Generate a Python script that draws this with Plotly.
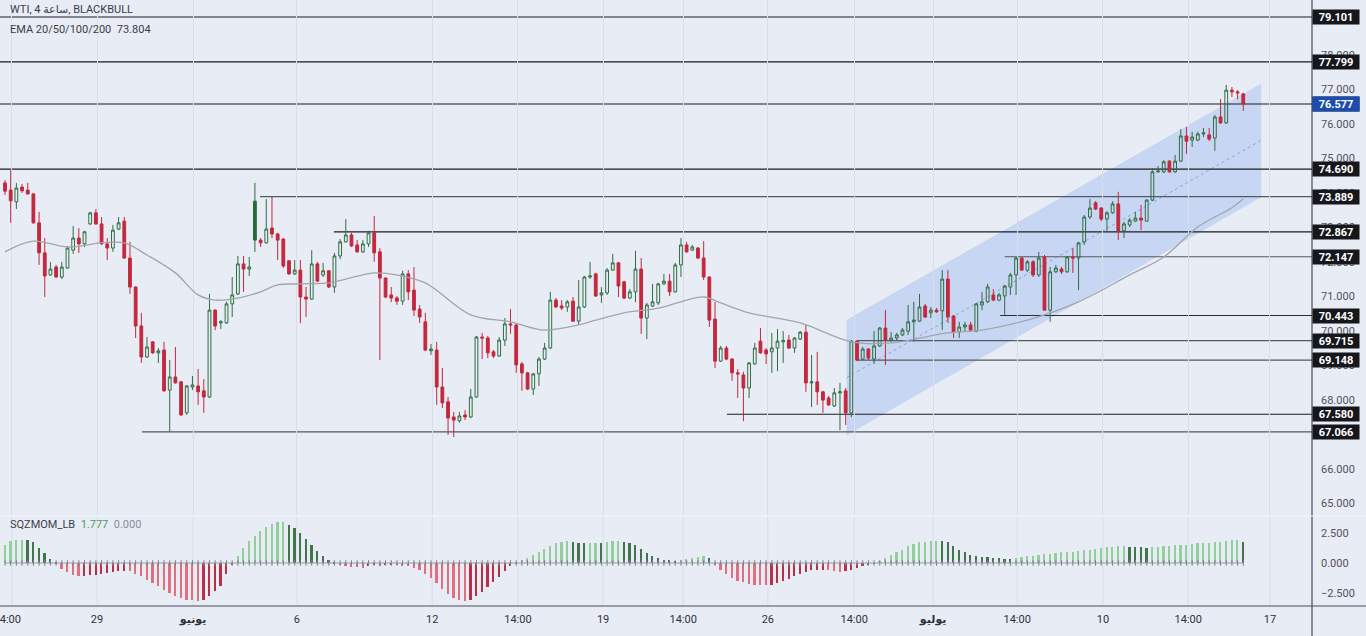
import plotly.graph_objects as go

# ---------------- DATA ----------------
opens = [74.29,74.08,73.74,74.17,74.08,73.97,73.13,72.26,71.62,71.85,
         71.56,71.82,72.34,72.69,72.52,73.10,73.42,73.10,72.52,72.40,
         72.95,73.18,72.11,71.27,70.14,69.24,69.68,69.36,69.44,68.28,
         68.66,68.52,67.62,68.37,68.40,68.26,68.08,70.60,70.23,70.23,
         70.78,71.07,71.94,71.79,73.76,72.63,72.55,72.98,72.81,72.66,
         72.03,71.65,71.76,70.98,70.92,71.94,71.62,71.74,71.27,72.17,
         72.58,72.78,72.49,72.29,72.52,72.84,72.29,71.53,71.04,70.95,
         70.86,71.65,71.18,70.63,70.26,69.42,69.44,68.37,67.94,67.50,
         67.39,67.56,67.50,68.08,69.82,69.79,69.39,69.27,69.73,70.20,
         70.17,69.04,68.78,68.31,68.75,69.18,69.50,70.89,70.72,70.69,
         70.86,70.28,70.69,71.56,71.65,71.04,71.10,71.76,71.97,71.42,
         70.95,71.13,71.79,70.37,70.72,70.81,71.36,71.44,71.13,71.91,
         72.49,72.34,72.40,72.11,71.56,70.34,69.12,69.50,69.18,68.78,
         68.72,68.34,69.04,69.70,69.44,69.39,69.50,69.68,69.73,69.50,
         69.76,69.96,68.49,68.52,68.23,68.05,67.82,68.20,68.26,67.62,
         69.70,69.18,69.47,69.18,69.56,70.08,69.73,69.79,69.88,69.99,
         70.26,70.28,70.72,70.52,70.60,70.58,71.50,70.43,69.97,70.11,
         70.17,69.99,70.75,70.84,71.04,70.89,71.01,71.27,71.62,72.11,
         71.76,72.00,71.62,72.14,70.60,71.71,71.79,71.71,72.14,72.11,
         72.58,73.30,73.71,73.56,73.24,73.42,73.68,72.90,73.07,73.18,
         73.27,73.18,73.79,74.61,74.61,74.92,74.61,74.92,75.65,75.53,
         75.53,75.71,75.68,75.59,76.20,76.03,76.98,76.93,76.87]
highs = [74.37,74.66,74.29,74.26,74.29,73.99,73.45,72.69,71.99,71.91,
         72.00,72.46,73.04,72.98,72.90,73.45,73.53,73.30,72.69,73.07,
         73.30,73.30,72.58,71.29,70.52,69.82,69.70,69.50,69.68,69.15,
         69.53,68.54,68.43,68.69,68.89,68.60,71.07,70.62,70.31,70.84,
         71.56,72.17,72.17,72.14,74.29,72.69,73.82,73.88,72.84,72.69,
         72.05,72.05,72.05,71.27,72.34,72.00,71.97,71.76,72.26,72.66,
         73.24,72.84,72.63,72.63,72.90,73.33,72.40,71.55,71.27,71.01,
         71.74,71.76,71.85,70.75,70.52,69.62,69.68,68.92,68.08,67.65,
         67.65,67.70,68.31,69.85,69.94,69.85,69.44,69.82,70.37,70.63,
         70.19,69.10,68.81,68.78,69.24,69.65,71.13,70.95,70.89,70.89,
         70.98,71.47,71.59,72.00,71.68,71.27,71.82,72.23,71.99,71.45,
         71.21,72.32,72.11,70.81,71.36,71.39,71.65,71.65,71.97,72.69,
         72.58,72.49,72.43,72.60,71.58,70.84,69.56,69.56,69.21,68.89,
         68.81,69.09,69.65,70.08,69.50,69.94,70.05,69.99,69.88,69.82,
         69.99,70.17,69.30,69.39,68.26,68.11,68.34,68.49,68.34,69.73,
         69.73,69.53,69.50,69.99,70.11,70.60,69.96,69.94,70.08,70.75,
         70.84,71.07,70.78,70.69,70.66,71.76,71.76,70.46,70.26,70.26,
         70.26,70.81,71.13,71.36,71.21,71.10,71.33,71.68,72.14,72.14,
         72.05,72.05,72.29,72.20,71.85,71.91,71.85,72.17,72.40,72.58,
         73.36,73.82,73.76,73.59,73.47,73.76,74.03,73.16,73.27,73.45,
         73.65,73.82,74.72,74.78,74.95,74.95,75.10,75.85,75.91,75.77,
         75.77,75.88,75.88,76.26,76.72,77.13,77.07,76.98,76.90]
lows = [73.94,73.13,73.53,74.00,73.95,73.11,71.91,70.98,71.60,71.53,
        71.50,71.80,72.23,72.26,72.43,73.07,73.07,72.49,72.05,72.29,
        72.92,72.09,71.07,69.79,69.07,69.21,69.33,69.07,68.23,67.07,
        68.47,67.53,67.56,68.28,67.85,67.62,68.05,70.02,70.05,70.20,
        70.40,71.04,71.13,71.59,72.29,72.43,72.53,72.69,72.05,71.82,
        71.62,71.62,70.22,70.40,70.90,71.42,71.56,71.24,71.10,72.08,
        72.56,72.43,72.26,72.26,72.43,72.00,69.15,70.95,70.83,70.75,
        70.75,70.89,70.43,70.23,69.42,69.30,67.85,67.76,66.98,66.92,
        67.33,67.41,67.47,68.06,69.18,69.21,69.21,69.24,69.56,69.91,
        68.78,68.26,68.28,68.14,68.40,69.15,69.47,70.66,70.60,70.55,
        70.26,70.17,70.66,71.50,70.98,70.81,71.04,71.74,70.98,70.92,
        70.92,70.83,69.91,69.76,70.69,70.75,71.33,71.01,71.11,71.56,
        72.26,72.32,72.08,71.47,70.11,68.92,69.10,69.15,68.55,68.05,
        67.38,68.05,69.01,69.33,69.04,68.78,68.83,69.07,69.47,69.36,
        69.73,68.23,67.79,67.85,67.62,67.82,67.79,67.12,67.27,67.50,
        69.12,69.15,69.15,69.04,69.53,69.01,69.68,69.73,69.85,69.88,
        69.68,70.26,70.37,70.37,70.52,70.02,70.23,69.79,69.79,69.99,
        69.99,69.96,70.60,70.81,70.86,70.86,70.46,71.04,71.04,71.74,
        71.70,71.56,71.56,70.58,70.26,71.68,71.65,71.68,71.68,71.18,
        72.49,73.24,73.50,73.18,72.90,73.39,72.63,72.69,73.01,73.16,
        72.92,73.16,73.76,74.58,74.58,74.58,74.58,74.90,75.13,75.33,
        75.50,75.62,75.50,75.22,76.00,76.00,76.78,76.72,76.38]
closes = [74.05,73.77,74.14,74.06,73.97,73.13,72.26,71.59,71.79,71.56,
          71.85,72.40,72.69,72.52,72.87,73.42,73.10,72.52,72.40,72.92,
          73.13,72.11,71.27,70.14,69.24,69.53,69.36,69.42,68.26,68.66,
          68.49,67.56,68.40,68.43,68.23,68.08,70.60,70.14,70.26,70.78,
          71.04,71.94,71.79,71.85,72.63,72.55,72.95,72.81,72.63,71.88,
          71.65,71.76,70.98,70.92,71.94,71.44,71.74,71.27,72.17,72.58,
          72.78,72.46,72.29,72.52,72.84,72.26,71.53,70.98,70.95,70.86,
          71.65,71.13,70.60,70.40,69.44,69.47,68.37,67.91,67.47,67.41,
          67.53,67.50,68.08,69.82,69.79,69.36,69.27,69.73,70.20,70.17,
          69.01,68.78,68.31,68.75,69.18,69.50,70.89,70.69,70.66,70.84,
          70.28,70.69,71.56,71.59,71.01,71.10,71.76,71.97,71.30,70.95,
          71.13,71.79,70.37,70.75,70.84,71.36,71.44,71.13,71.91,72.49,
          72.29,72.43,72.11,71.56,70.31,69.12,69.50,69.18,68.78,68.75,
          68.34,69.07,69.50,69.36,69.33,69.50,69.70,69.72,69.50,69.79,
          69.96,68.49,68.52,68.23,67.99,67.85,68.20,68.23,67.62,69.70,
          69.15,69.47,69.21,69.56,70.08,69.73,69.79,69.88,70.02,70.26,
          70.31,70.69,70.40,70.60,70.55,71.50,70.40,69.97,70.11,70.17,
          70.02,70.78,70.84,71.27,70.89,71.04,71.30,71.62,72.11,71.76,
          72.00,71.62,72.11,70.60,71.71,71.82,71.71,72.14,72.11,72.55,
          73.30,73.56,73.53,73.24,73.42,73.68,72.90,73.10,73.21,73.27,
          73.21,73.79,74.61,74.63,74.90,74.61,74.92,75.65,75.50,75.62,
          75.71,75.74,75.56,76.20,76.03,76.98,76.93,76.90,76.58]

momentum = [1.53,1.80,1.89,1.94,1.90,1.72,1.25,0.83,0.36,0.10,
            -0.47,-0.78,-0.97,-1.11,-1.06,-1.00,-0.97,-0.89,-0.83,-0.75,
            -0.69,-0.64,-0.69,-0.89,-1.11,-1.39,-1.67,-1.94,-2.22,-2.50,
            -2.78,-2.94,-3.06,-3.11,-3.13,-3.06,-2.72,-2.36,-1.89,-0.89,
            -0.10,0.56,1.25,1.80,2.28,2.64,3.00,3.28,3.42,3.44,
            3.19,2.92,2.50,2.00,1.53,0.97,0.56,0.22,0.10,-0.14,
            -0.28,-0.36,-0.37,-0.42,-0.28,-0.19,-0.22,-0.19,-0.17,-0.19,
            -0.22,-0.28,-0.42,-0.61,-0.89,-1.25,-1.67,-2.17,-2.56,-2.92,
            -3.06,-3.19,-3.06,-2.78,-2.44,-2.00,-1.61,-1.17,-0.69,-0.28,
            0.06,0.22,0.42,0.69,0.89,1.17,1.44,1.67,1.78,1.83,
            1.75,1.67,1.64,1.67,1.69,1.67,1.72,1.80,1.83,1.75,
            1.67,1.53,1.17,0.83,0.56,0.42,0.28,0.22,0.20,0.28,
            0.33,0.42,0.50,0.55,0.45,
            -0.10,-0.56,-0.90,-1.25,-1.47,-1.60,-1.72,-1.80,-1.83,-1.86,
            -1.80,-1.67,-1.53,-1.33,-1.11,
            -0.89,-0.72,-0.61,-0.56,-0.55,
            -0.61,-0.69,-0.78,-0.69,-0.61,
            -0.42,-0.28,-0.14,-0.06,
            0.19,0.42,0.69,0.92,1.11,1.39,
            1.58,1.72,1.78,1.83,1.86,
            1.83,1.72,1.44,1.11,0.89,
            0.69,0.56,0.47,0.46,0.44,
            0.39,0.36,0.33,0.42,0.50,
            0.56,0.61,0.69,0.75,0.78,
            0.83,0.89,0.90,0.92,0.97,
            1.05,1.11,1.19,1.25,1.30,
            1.36,1.39,1.40,1.36,1.33,
            1.31,1.25,1.31,1.33,1.39,
            1.44,1.47,1.50,1.53,1.58,
            1.67,1.69,1.70,1.72,1.75,
            1.83,1.89,1.94,1.78]

ema_idx = [0,5,11,17,21,25,30,34,37,41,45,48,52,57,60,65,69,74,82,89,
           95,101,104,109,115,119,123,126,131,140,149,156,166,172,180,189,198,204,210,216,218]
ema_val = [72.29,72.60,72.43,72.55,72.55,72.20,71.68,71.04,70.89,70.95,71.13,71.33,71.36,71.39,71.50,
           71.68,71.62,71.39,70.46,70.26,70.02,70.17,70.31,70.52,70.66,70.84,70.98,70.81,70.52,70.23,
           69.68,69.65,69.94,70.02,70.31,70.84,71.62,72.14,73.01,73.57,73.82]

grid_pos = [1.2, 16.2, 33.1, 51.4, 75.2, 90.3, 105.3, 119.4, 134.3, 149.5, 163.4, 178.2, 193.3, 208.3, 222.7]
label_pos = [0.4, 16.2, 33.1, 51.4, 75.2, 90.3, 105.3, 119.4, 134.3, 149.5, 163.4, 178.2, 193.3, 208.3, 222.7]
tick_text = ["14:00", "29", "<b>يونيو</b>", "6", "12", "14:00", "19", "14:00", "26", "14:00",
             "<b>يوليو</b>", "14:00", "10", "14:00", "17"]

price_ticks = [65, 66, 67, 68, 69, 70, 71, 72, 73, 74, 75, 76, 77, 78]
mom_ticks = [-2.5, 0.0, 2.5]

level_prices = [79.101, 77.799, 76.577, 74.690, 73.889, 72.867, 72.147, 70.443, 69.715, 69.148, 67.580, 67.066]
level_start = [-2, -2, -2, -2, 44.9, 57.9, 176.0, 175.2, 150.0, 150.0, 127.1, 24.1]
last_price = 76.577

channel_x = [148.2, 221.1]
channel_upper = [70.31, 77.16]
channel_lower = [66.98, 73.88]

ema_label = "73.804"
mom_label = ("1.777", "0.000")

# ---------------- STYLE ----------------
BG = "#e8ecf5"
GRID = "#d9dee9"
GREEN = "#2f6e42"
GREEN_FILL = "#2a6a3a"
RED = "#c3283e"
TXT = "#3b3e47"
FONT = "Roboto, 'DejaVu Sans', 'Noto Sans', sans-serif"
level_colors = ["#1c1d22", "#1c1d22", "#1c1d22", "#1c1d22", "#55585f", "#1c1d22",
                "#55585f", "#2b2d33", "#55585f", "#55585f", "#1c1d22", "#55585f"]

n = len(closes)
xs = list(range(n))
prev = [opens[0]] + closes[:-1]
up = [closes[i] >= prev[i] for i in range(n)]


def pick(arr, mask):
    return [a for a, m in zip(arr, mask) if m]


dn = [not u for u in up]
fig = go.Figure()

XR = [-0.88, 230.1]

# channel
fig.add_shape(type="path", xref="x", yref="y",
              path=(f"M {channel_x[0]},{channel_lower[0]} L {channel_x[1]},{channel_lower[1]} "
                    f"L {channel_x[1]},{channel_upper[1]} L {channel_x[0]},{channel_upper[0]} Z"),
              fillcolor="rgba(110,155,235,0.27)", line=dict(color="rgba(150,180,235,0.25)", width=0.5),
              layer="below")
fig.add_shape(type="line", xref="x", yref="y",
              x0=channel_x[0], x1=channel_x[1],
              y0=(channel_upper[0] + channel_lower[0]) / 2, y1=(channel_upper[1] + channel_lower[1]) / 2,
              line=dict(color="rgba(110,140,215,0.7)", width=1, dash="dot"), layer="below")

# horizontal levels
for p, s, c in zip(level_prices, level_start, level_colors):
    fig.add_shape(type="line", xref="x", yref="y", x0=s, x1=XR[1] + 2, y0=p, y1=p,
                  line=dict(color=c, width=1.2), layer="below")

# vertical grid in the momentum pane
for g in grid_pos:
    fig.add_shape(type="line", xref="x2", yref="y2 domain", x0=g, x1=g, y0=0, y1=1,
                  line=dict(color=GRID, width=1), layer="below")

# EMA
fig.add_trace(go.Scatter(x=ema_idx, y=ema_val, mode="lines", line=dict(color="#a2a5ad", width=1.3, shape="spline"),
                         xaxis="x", yaxis="y", hoverinfo="skip"))

# candles
fig.add_trace(go.Candlestick(
    x=pick(xs, up), open=pick(opens, up), high=pick(highs, up), low=pick(lows, up), close=pick(closes, up),
    increasing=dict(line=dict(color=GREEN, width=1), fillcolor="rgba(0,0,0,0)"),
    decreasing=dict(line=dict(color=GREEN_FILL, width=1), fillcolor=GREEN_FILL),
    xaxis="x", yaxis="y", whiskerwidth=0))
fig.add_trace(go.Candlestick(
    x=pick(xs, dn), open=pick(opens, dn), high=pick(highs, dn), low=pick(lows, dn), close=pick(closes, dn),
    increasing=dict(line=dict(color=RED, width=1), fillcolor="rgba(0,0,0,0)"),
    decreasing=dict(line=dict(color=RED, width=1), fillcolor=RED),
    xaxis="x", yaxis="y", whiskerwidth=0))

# momentum histogram
mcol = []
for i, v in enumerate(momentum):
    pv = momentum[i - 1] if i > 0 else v
    if v >= 0:
        mcol.append("#93cf9c" if v >= pv else "#44744e")
    else:
        mcol.append("#e0707f" if v <= pv else "#b7304a")
fig.add_trace(go.Bar(x=xs, y=momentum, width=0.3, marker=dict(color=mcol, line=dict(width=0)),
                     xaxis="x2", yaxis="y2", hoverinfo="skip"))
fig.add_trace(go.Scatter(x=xs, y=[0] * n, mode="lines+markers",
                         line=dict(color="#9a9da5", width=1),
                         marker=dict(symbol="line-ns", size=4, line=dict(color="#7d8089", width=1)),
                         xaxis="x2", yaxis="y2", hoverinfo="skip"))

# frame lines
fig.add_shape(type="line", xref="paper", yref="paper", x0=1, x1=1, y0=-0.0495, y1=1,
              line=dict(color="#2a2d35", width=1))
fig.add_shape(type="line", xref="paper", yref="paper", x0=0, x1=1.0412, y0=0, y1=0,
              line=dict(color="#4a4d55", width=1))
fig.add_shape(type="line", xref="paper", yref="paper", x0=0, x1=1.0412, y0=0.1485, y1=0.1485,
              line=dict(color="#f3f5fa", width=1))

# price labels on the right
for p in level_prices:
    fig.add_annotation(x=1, xref="paper", xanchor="left", y=p, yref="y", yanchor="middle",
                       text=f"<b>{p:.3f}</b>", showarrow=False, bgcolor="#15171c",
                       font=dict(color="white", size=11, family=FONT), borderpad=1, width=44, height=12)
fig.add_annotation(x=1, xref="paper", xanchor="left", y=last_price, yref="y", yanchor="middle",
                   text=f"<b>{last_price:.3f}</b>", showarrow=False, bgcolor="#1d4cae",
                   font=dict(color="white", size=11, family=FONT), borderpad=1, width=44, height=12)

# legend texts
fig.add_annotation(x=0.006, y=0.984, xref="paper", yref="paper", xanchor="left", yanchor="middle",
                   text="WTI, 4 ساعة, BLACKBULL", showarrow=False, font=dict(size=11, color=TXT, family=FONT))
fig.add_annotation(x=0.006, y=0.952, xref="paper", yref="paper", xanchor="left", yanchor="middle",
                   text=f"EMA 20/50/100/200  {ema_label}", showarrow=False,
                   font=dict(size=11, color=TXT, family=FONT))
fig.add_annotation(x=0.006, y=0.1337, xref="paper", yref="paper", xanchor="left", yanchor="middle",
                   text=(f"SQZMOM_LB  <span style='color:#4d9a5c'>{mom_label[0]}</span>  "
                         f"<span style='color:#8a8d95'>{mom_label[1]}</span>"),
                   showarrow=False, font=dict(size=11, color=TXT, family=FONT))

fig.update_layout(
    width=1366, height=636, margin=dict(l=0, r=54, t=0, b=30, autoexpand=False),
    paper_bgcolor=BG, plot_bgcolor=BG, showlegend=False,
    font=dict(family=FONT, size=11, color=TXT),
    xaxis=dict(domain=[0, 1], range=XR, anchor="y", tickvals=grid_pos, showticklabels=False,
               showgrid=True, gridcolor=GRID, gridwidth=1, zeroline=False, ticks="", automargin=False,
               rangeslider=dict(visible=False), fixedrange=True),
    xaxis2=dict(domain=[0, 1], range=XR, anchor="y2", tickvals=label_pos, ticktext=tick_text,
                showgrid=False, zeroline=False, ticks="", automargin=False,
                tickfont=dict(size=11, color="#2f3238", family=FONT), ticklabelstandoff=5,
                ticklabeloverflow="allow",
                rangeslider=dict(visible=False), fixedrange=True),
    yaxis=dict(domain=[0.1502, 1], range=[64.658, 79.594], side="right", anchor="x", automargin=False,
               tickvals=price_ticks, ticktext=[f"{t:.3f}" for t in price_ticks],
               showgrid=False, zeroline=False, showline=False, ticks="", ticklabelstandoff=8,
               tickfont=dict(size=11, color="#4f525a", family=FONT), fixedrange=True),
    yaxis2=dict(domain=[0, 0.1469], range=[-3.583, 3.833], side="right", anchor="x2", automargin=False,
                tickvals=mom_ticks, ticktext=["−2.500", "0.000", "2.500"],
                showgrid=False, zeroline=False, showline=False, ticks="", ticklabelstandoff=8,
                tickfont=dict(size=11, color="#4f525a", family=FONT), fixedrange=True),
    bargap=0,
)

fig.write_html("out.html", config={"displayModeBar": False},
               post_script="document.body.style.margin='0';document.body.style.overflow='hidden';")
